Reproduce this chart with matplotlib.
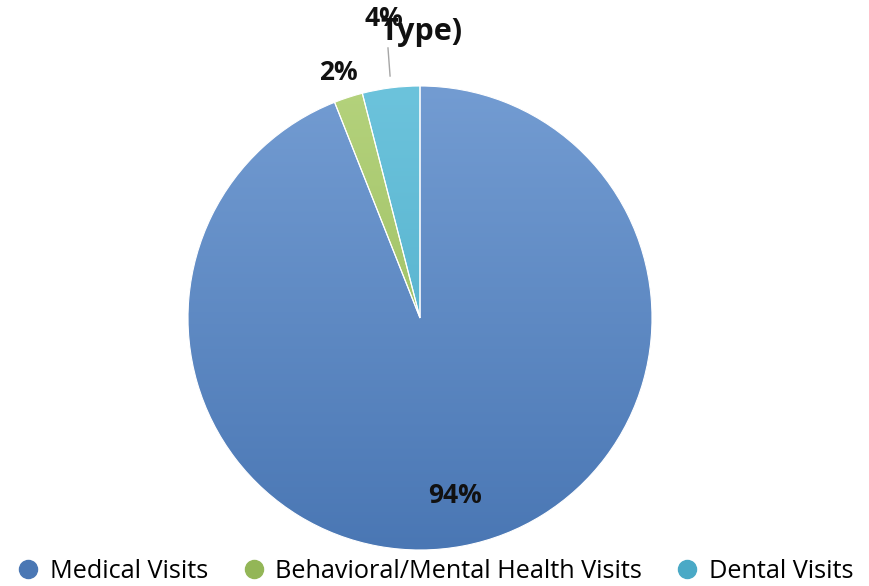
"""Pie chart of visits by type, recreated with matplotlib."""

import matplotlib

matplotlib.use("Agg")

import matplotlib.pyplot as plt
import numpy as np
from matplotlib.colors import LinearSegmentedColormap, to_rgb

CATEGORIES = ["Medical Visits", "Behavioral/Mental Health Visits", "Dental Visits"]
SHARES = [94, 2, 4]
TOP_COLORS = ["#739cd2", "#b4d27c", "#6cc3dc"]
BOTTOM_COLORS = ["#4a77b4", "#93b657", "#4aa9c6"]
LABELS = ["94%", "2%", "4%"]

plt.rcParams["font.family"] = ["Open Sans", "DejaVu Sans"]

fig = plt.figure(figsize=(8.69, 5.86), dpi=100)

# pie axes: centre at (420, 318) px, radius 232 px
cx, cy, r = 420 / 869, 1 - 318 / 586, 232
ax = fig.add_axes([cx - r / 869, cy - r / 586, 2 * r / 869, 2 * r / 586])

wedges, _ = ax.pie(
    SHARES,
    startangle=90,
    counterclock=False,
    colors=BOTTOM_COLORS,
    wedgeprops={"edgecolor": "white", "linewidth": 0.8},
)

# vertical gradient fill inside each wedge
grad = np.linspace(1, 0, 256).reshape(-1, 1)
for wedge, top, bottom in zip(wedges, TOP_COLORS, BOTTOM_COLORS):
    cmap = LinearSegmentedColormap.from_list("g", [to_rgb(bottom), to_rgb(top)])
    im = ax.imshow(grad, cmap=cmap, extent=(-1, 1, -1, 1), aspect="auto", zorder=wedge.get_zorder())
    im.set_clip_path(wedge)
    wedge.set_facecolor("none")
    wedge.set_zorder(im.get_zorder() + 0.1)

ax.set_xlim(-1, 1)
ax.set_ylim(-1, 1)
ax.axis("off")

label_pos = [(0.151, -0.767), (-0.353, 1.06), (-0.155, 1.293)]
for text, (x, y) in zip(LABELS, label_pos):
    ax.text(x, y, text, ha="center", va="center", fontsize=19, fontweight="bold",
            color="#111111", clip_on=False)

# leader line for the small dental label
ax.plot([-0.138, -0.129], [1.164, 1.043], color="#a6a6a6", linewidth=1, clip_on=False)

fig.text(0.485, 1 - 32 / 586, "Type)", ha="center", va="center", fontsize=22,
         fontweight="bold", color="#111111")

handles = [plt.Line2D([], [], marker="o", linestyle="none", markersize=13,
                      markerfacecolor=c, markeredgecolor=c) for c in BOTTOM_COLORS]
fig.legend(
    handles,
    CATEGORIES,
    loc="center",
    bbox_to_anchor=(0.5, 1 - 571 / 586),
    ncol=3,
    frameon=False,
    fontsize=18.2,
    handletextpad=0.35,
    columnspacing=1.3,
    handlelength=1.0,
    borderaxespad=0,
)

fig.savefig("out.png", dpi=100)
